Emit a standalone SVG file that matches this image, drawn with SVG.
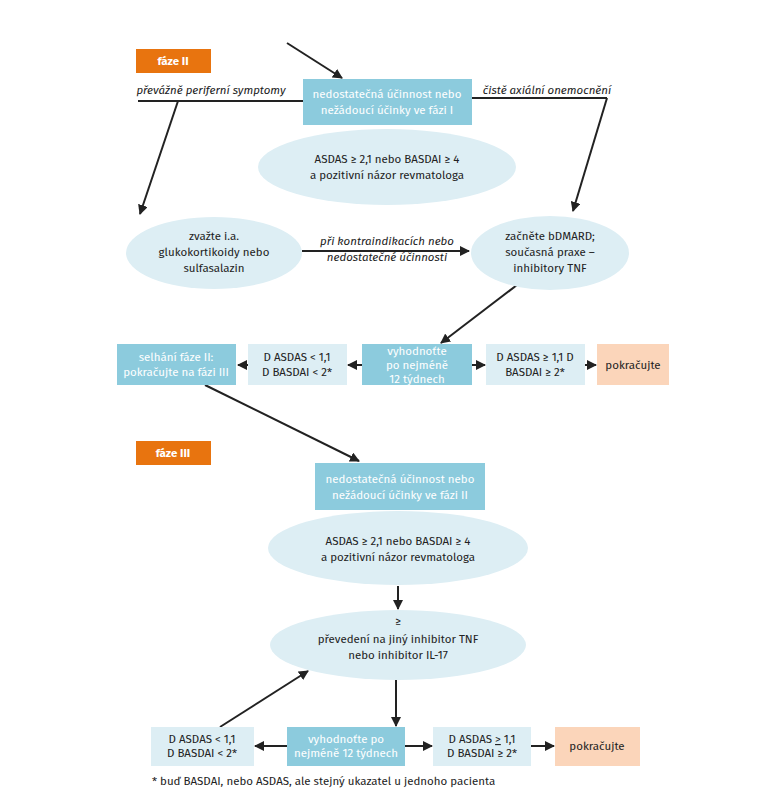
<svg xmlns="http://www.w3.org/2000/svg" width="779" height="800" viewBox="0 0 779 800">
<style>
text{font-family:"Fira Sans","Noto Sans","Liberation Sans",sans-serif;font-size:11.5px;fill:#222;text-anchor:middle}
.w{fill:#fff}
.i{font-style:italic}
.ph{fill:#E8740F}
.dk{fill:#8CCBDD}
.lt{fill:#DDEEF4}
.or{fill:#FBD5BA}
.c{stroke:#222;stroke-width:2;fill:none}
.ca{stroke:#222;stroke-width:2;fill:none;marker-end:url(#a)}
</style>
<defs><marker id="a" viewBox="0 0 10 10" refX="9" refY="5" markerWidth="5" markerHeight="5" orient="auto"><path d="M0,0L10,5L0,10z" fill="#222"/></marker></defs>
<rect width="779" height="800" fill="#fff"/>
<g id="connectors">
<path class="ca" d="M287,43L342,78"/>
<path class="c" d="M138,101H303M472,98H607"/>
<path class="ca" d="M178,101L140,214"/>
<path class="ca" d="M607,98L573,211"/>
<path class="ca" d="M302,251H469"/>
<path class="ca" d="M517,285L441,343"/>
<path class="ca" d="M362,365H348"/>
<path class="ca" d="M248,365H238"/>
<path class="ca" d="M472,365H485"/>
<path class="ca" d="M585,365H596"/>
<path class="ca" d="M205,385L359,461"/>
<path class="ca" d="M398,586V609"/>
<path class="ca" d="M396,680V726"/>
<path class="ca" d="M287,746H255"/>
<path class="ca" d="M405,746H432"/>
<path class="ca" d="M531,746H554"/>
<path class="ca" d="M220,727L308,671"/>
</g>
<g id="phase2"><rect class="ph" x="136" y="49" width="75" height="24"/><text class="w" x="173" y="65" font-weight="bold">fáze II</text></g>
<g id="lbl1"><text class="i" x="211" y="94">převážně periferní symptomy</text></g>
<g id="lbl2"><text class="i" x="547" y="94">čistě axiální onemocnění</text></g>
<g id="n1"><rect class="dk" x="303" y="79" width="169" height="46"/><text class="w" x="387" y="98">nedostatečná účinnost nebo</text><text class="w" x="387" y="114">nežádoucí účinky ve fázi I</text></g>
<g id="n2"><ellipse class="lt" cx="387" cy="167" rx="129" ry="38"/><text x="387" y="163">ASDAS ≥ 2,1 nebo BASDAI ≥ 4</text><text x="387" y="179">a pozitivní názor revmatologa</text></g>
<g id="n3"><ellipse class="lt" cx="214" cy="253" rx="88" ry="36"/><text x="214" y="240">zvažte i.a.</text><text x="214" y="256">glukokortikoidy nebo</text><text x="214" y="272">sulfasalazin</text></g>
<g id="lbl3"><text class="i" x="387" y="245">při kontraindikacích nebo</text><text class="i" x="387" y="261">nedostatečné účinnosti</text></g>
<g id="n4"><ellipse class="lt" cx="550" cy="253" rx="79" ry="37"/><text x="550" y="240">začněte bDMARD;</text><text x="550" y="256">současná praxe –</text><text x="550" y="272">inhibitory TNF</text></g>
<g id="n5"><rect class="dk" x="117" y="344" width="119" height="41"/><text class="w" x="176" y="361">selhání fáze II:</text><text class="w" x="176" y="376">pokračujte na fázi III</text></g>
<g id="n6"><rect class="lt" x="248" y="344" width="99" height="41"/><text x="297" y="361">D ASDAS &lt; 1,1</text><text x="297" y="376">D BASDAI &lt; 2*</text></g>
<g id="n7"><rect class="dk" x="362" y="344" width="110" height="41"/><text class="w" x="417" y="355">vyhodnoťte</text><text class="w" x="417" y="369">po nejméně</text><text class="w" x="417" y="383">12 týdnech</text></g>
<g id="n8"><rect class="lt" x="486" y="344" width="99" height="41"/><text x="535" y="361">D ASDAS ≥ 1,1 D</text><text x="535" y="376">BASDAI ≥ 2*</text></g>
<g id="n9"><rect class="or" x="597" y="344" width="72" height="41"/><text x="633" y="369">pokračujte</text></g>
<g id="phase3"><rect class="ph" x="136" y="441" width="75" height="24"/><text class="w" x="173" y="457" font-weight="bold">fáze III</text></g>
<g id="n10"><rect class="dk" x="315" y="463" width="170" height="47"/><text class="w" x="400" y="483">nedostatečná účinnost nebo</text><text class="w" x="400" y="499">nežádoucí účinky ve fázi II</text></g>
<g id="n11"><ellipse class="lt" cx="398" cy="548" rx="130" ry="37"/><text x="398" y="545">ASDAS ≥ 2,1 nebo BASDAI ≥ 4</text><text x="398" y="561">a pozitivní názor revmatologa</text></g>
<g id="n12"><ellipse class="lt" cx="398" cy="645" rx="128" ry="35"/><text x="398" y="625">≥</text><text x="398" y="643">převedení na jiný inhibitor TNF</text><text x="398" y="659">nebo inhibitor IL-17</text></g>
<g id="n13"><rect class="lt" x="151" y="727" width="103" height="39"/><text x="202" y="743">D ASDAS &lt; 1,1</text><text x="202" y="757">D BASDAI &lt; 2*</text></g>
<g id="n14"><rect class="dk" x="287" y="727" width="118" height="39"/><text class="w" x="346" y="743">vyhodnoťte po</text><text class="w" x="346" y="757">nejméně 12 týdnech</text></g>
<g id="n15"><rect class="lt" x="433" y="727" width="98" height="39"/><text x="482" y="743">D ASDAS <tspan text-decoration="underline">&gt;</tspan> 1,1</text><text x="482" y="757">D BASDAI ≥ 2*</text></g>
<g id="n16"><rect class="or" x="555" y="727" width="85" height="39"/><text x="597" y="750">pokračujte</text></g>
<text x="152" y="785" style="text-anchor:start">* buď BASDAI, nebo ASDAS, ale stejný ukazatel u jednoho pacienta</text>
</svg>
